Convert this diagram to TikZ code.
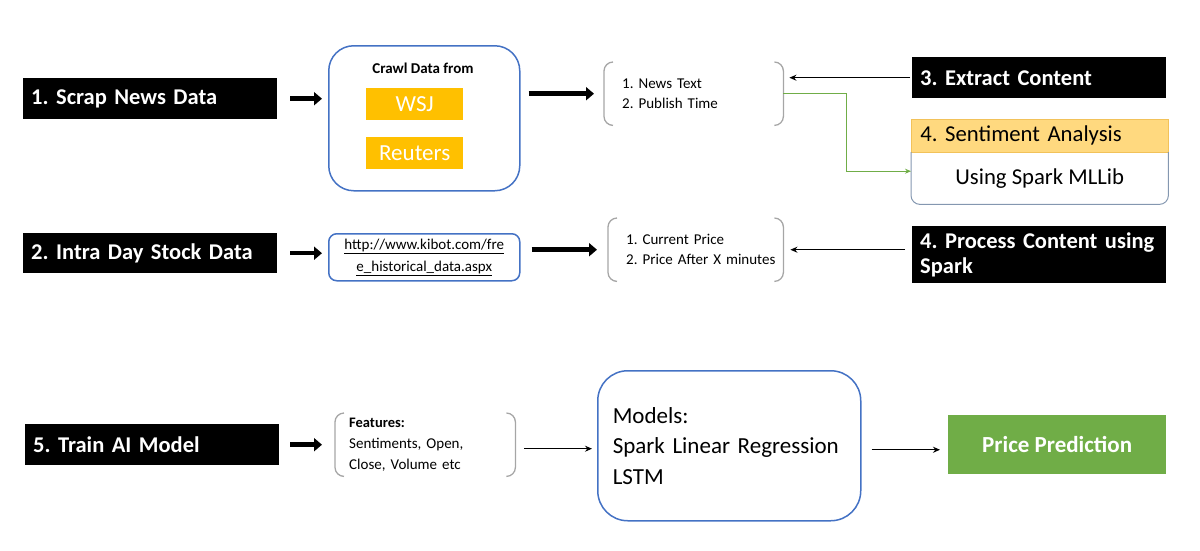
\documentclass[tikz,border=0pt]{standalone}
\usepackage{fontspec}
\setmainfont{Carlito}
\usetikzlibrary{arrows.meta,calc}
\definecolor{cblue}{HTML}{4472C4}
\definecolor{cyellow}{HTML}{FFC000}
\definecolor{corange}{HTML}{FFD97F}
\definecolor{corangeline}{HTML}{F2C25A}
\definecolor{cgreen}{HTML}{70AD47}
\definecolor{cgray}{HTML}{A6A6A6}
\definecolor{cslate}{HTML}{8497B0}
\newcommand\fs[2]{\fontsize{#1}{#2}\selectfont}
\newcommand\brk[1]{%
  \draw[brkline] ([xshift=9pt]#1.north west) -- (#1.north west) -- (#1.south west) -- ([xshift=9pt]#1.south west);
  \draw[brkline] ([xshift=-9pt]#1.north east) -- (#1.north east) -- (#1.south east) -- ([xshift=-9pt]#1.south east);}
\frenchspacing
\begin{document}
\begin{tikzpicture}[x=1pt,y=-1pt,
  blackbox/.style={fill=black, text=white, font=\bfseries\fs{22.5}{26}, inner xsep=8pt, inner ysep=0pt, align=left, anchor=north west},
  roundbox/.style={draw=cblue, line width=1.5pt, anchor=north west, inner sep=0pt},
  ybox/.style={fill=cyellow, text=white, font=\fs{23}{26}, minimum width=97pt, minimum height=32pt, inner sep=0pt, anchor=north west},
  brkbox/.style={anchor=north west, inner ysep=0pt, align=left},
  brkline/.style={cgray, line width=1.3pt, rounded corners=9pt},
  fatarrow/.style={line width=4.5pt, -{Triangle[length=8pt,width=13pt]}},
  thinarrow/.style={line width=1.2pt, -{Stealth[length=7pt,width=6pt]}},
  greenarrow/.style={cgreen, line width=1pt, -{Stealth[length=6pt,width=5pt]}}
]
\useasboundingbox (0,0) rectangle (1200,550);

% ---------- row 1 ----------
\node[blackbox, text width=238pt, minimum height=41pt] (scrap) at (23,78) {1. Scrap News Data};
\node[roundbox, rounded corners=25pt, minimum width=191pt, minimum height=145pt] (crawl) at (328,45) {};
\node[font=\bfseries\fs{15}{17}] (crawlt) at (423,68) {Crawl Data from};
\node[ybox] (wsj) at (366,88) {WSJ};
\node[ybox] (reuters) at (366,137) {Reuters};
\node[brkbox, font=\fs{15}{20}, inner xsep=18pt, text width=143pt, minimum height=63pt] (news) at (604,62) {\mbox{1. News Text}\\\mbox{2. Publish Time}};
\brk{news}
\node[blackbox, text width=238pt, minimum height=41pt] (extract) at (912,57) {3. Extract Content};
\node[fill=corange, draw=corangeline, line width=0.8pt, anchor=north west, minimum width=257pt, minimum height=33pt, text width=239pt, inner xsep=9pt, inner ysep=0pt, align=left, font=\fs{22.7}{26}] (sah) at (911,119) {4. Sentiment Analysis};
\node[anchor=north west, minimum width=257pt, minimum height=52pt, inner sep=0pt, font=\fs{22.7}{26}] (sab) at (911,152) {Using Spark MLLib};
\draw[cslate, line width=1pt, rounded corners=9pt] (sab.north west) -- (sab.south west) -- (sab.south east) -- (sab.north east);

\draw[fatarrow, shorten <=13pt, shorten >=6pt] (scrap.east) -- (scrap.east -| crawl.west);
\draw[fatarrow, shorten <=8pt, shorten >=10pt] (crawl.east |- news.west) -- (news.west);
\draw[thinarrow, shorten <=2pt, shorten >=6pt] (extract.west) -- (extract.west -| news.east);
\draw[greenarrow] (news.east) -- ++(63,0) |- ([yshift=7pt]sab.west);

% ---------- row 2 ----------
\node[blackbox, text width=238pt, minimum height=40pt] (stock) at (23,233) {2. Intra Day Stock Data};
\node[roundbox, rounded corners=8pt, minimum width=191pt, minimum height=47pt, align=center, font=\fs{15}{22}] (url) at (328,233) {\underline{http://www.kibot.com/fre}\\\underline{e\_historical\_data.aspx}};
\node[brkbox, font=\fs{15}{20}, inner xsep=18pt, text width=139pt, minimum height=63pt] (price) at (608,218) {\mbox{1. Current Price}\\\mbox{2. Price After X minutes}};
\brk{price}
\node[blackbox, text width=238pt, minimum height=57pt, font=\bfseries\fs{22.5}{25}] (process) at (912,226) {\mbox{4. Process Content using}\\Spark};

\draw[fatarrow, shorten <=13pt, shorten >=6pt] (stock.east) -- (stock.east -| url.west);
\draw[fatarrow, shorten <=11pt, shorten >=11pt] (url.east |- price.west) -- (price.west);
\draw[thinarrow, shorten <=7pt, shorten >=7pt] (process.west |- price.east) -- (price.east);

% ---------- row 3 ----------
\node[blackbox, text width=238pt, minimum height=41pt] (train) at (25,424) {5. Train AI Model};
\node[brkbox, font=\fs{15}{21}, inner xsep=14pt, text width=152pt, minimum height=63pt] (feat) at (335,413) {{\bfseries\fs{14.5}{21}Features:}\\\mbox{Sentiments, Open,}\\\mbox{Close, Volume etc}};
\brk{feat}
\node[roundbox, rounded corners=30pt, minimum width=263pt, minimum height=150pt, inner xsep=15pt, text width=233pt, align=left, font=\fs{23}{30.5}] (models) at (597,370) {Models:\\\mbox{Spark Linear Regression}\\LSTM};
\node[fill=cgreen, text=white, font=\bfseries\fs{23}{26}, anchor=north west, minimum width=218pt, minimum height=59pt, inner sep=0pt] (pred) at (948,415) {Price Prediction};

\draw[fatarrow, shorten <=11pt, shorten >=13pt] (train.east) -- (train.east -| feat.west);
\draw[thinarrow, shorten <=9pt, shorten >=5pt] ([yshift=-4pt]feat.east) -- ([yshift=-4pt]feat.east -| models.west);
\draw[thinarrow, shorten <=10pt, shorten >=8pt] ([yshift=-4pt]models.east) -- ([yshift=-4pt]models.east -| pred.west);
\end{tikzpicture}
\end{document}
